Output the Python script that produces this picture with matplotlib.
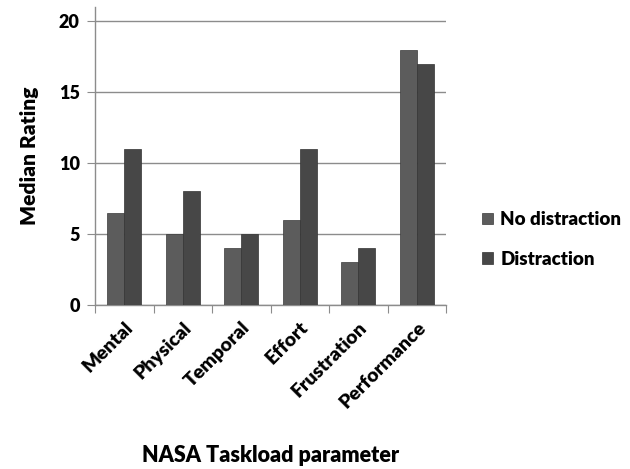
import matplotlib
matplotlib.use("Agg")
import matplotlib.pyplot as plt
import numpy as np

categories = ["Mental", "Physical", "Temporal", "Effort", "Frustration", "Performance"]
no_distraction = [6.5, 5, 4, 6, 3, 18]
distraction = [11, 8, 5, 11, 4, 17]
series_names = ["No distraction", "Distraction"]
yticks = [0, 5, 10, 15, 20]

plt.rcParams['font.family'] = ['Lato', 'DejaVu Sans']
plt.rcParams['font.weight'] = 'bold'

fig = plt.figure(figsize=(6.3, 4.69), dpi=100)
ax = fig.add_axes([0.151, 0.350, 0.557, 0.635])

x = np.arange(len(categories))
w = 0.29
c1 = "#5c5c5c"
c2 = "#474747"
ax.bar(x - w/2, no_distraction, w, color=c1, edgecolor="#3a3a3a", linewidth=0.5, label=series_names[0], zorder=3)
ax.bar(x + w/2, distraction, w, color=c2, edgecolor="#333333", linewidth=0.5, label=series_names[1], zorder=3)

ax.set_xlim(-0.5, len(categories) - 0.5)
ax.set_ylim(0, 21)
ax.set_yticks(yticks)
ax.set_yticklabels([str(t) for t in yticks], fontsize=13, fontweight='heavy')
ax.yaxis.grid(True, color="#8c8c8c", linewidth=1.0, zorder=0)
ax.set_axisbelow(True)

ax.set_xticks(np.arange(len(categories) + 1) - 0.5)
ax.set_xticklabels([])
ax.set_xticks(x, minor=True)
ax.set_xticklabels(categories, minor=True, rotation=45, ha='right', rotation_mode='anchor',
                   fontsize=14, fontweight='heavy')
ax.tick_params(axis='x', which='minor', length=0, pad=10)
ax.tick_params(axis='x', which='major', length=6, color="#8c8c8c", direction='out')
ax.tick_params(axis='y', length=6, color="#8c8c8c", direction='out', pad=5)

for s in ['top', 'right']:
    ax.spines[s].set_visible(False)
for s in ['left', 'bottom']:
    ax.spines[s].set_color("#8c8c8c")
    ax.spines[s].set_linewidth(1.0)

ax.set_ylabel("Median Rating", fontsize=15, fontweight='heavy', labelpad=14)
fig.text(0.43, 0.015, "NASA Taskload parameter", fontsize=15.5, fontweight='heavy', ha='center')

leg = ax.legend(loc='center left', bbox_to_anchor=(1.08, 0.22), frameon=False,
                prop={'size': 13.5, 'weight': 'heavy'}, handlelength=0.6, handleheight=0.6,
                handletextpad=0.4, labelspacing=1.2, borderaxespad=0)

fig.savefig("out.png", dpi=100)
